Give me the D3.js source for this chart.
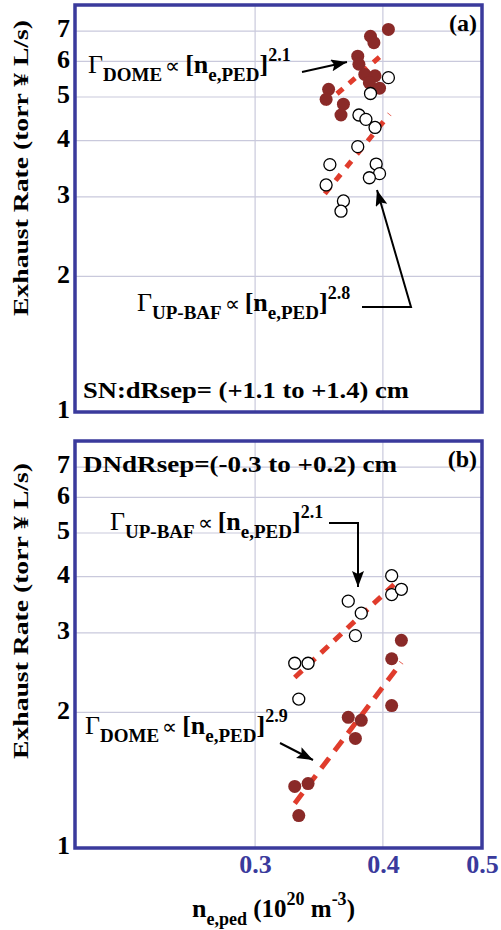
<!DOCTYPE html>
<html>
<head>
<meta charset="utf-8">
<script src="https://cdn.jsdelivr.net/npm/d3@7"></script>
<style>
  body { margin: 0; background: #fff; }
  svg { display: block; }
  text { font-family: "Liberation Serif", "Times New Roman", serif; }
</style>
</head>
<body>
<div id="chart"></div>
<script>
// tick values
const xTicks = [0.3, 0.4, 0.5];
const xGrid = [0.3, 0.4];
const yTicks = [1, 2, 3, 4, 5, 6, 7];

// panel (a) SN: dome (filled) and upper baffle (open)
const domeA_x = [0.405, 0.389, 0.392, 0.378, 0.379, 0.384, 0.393, 0.388, 0.397, 0.354, 0.352, 0.366, 0.364];
const domeA_y = [7.06, 6.82, 6.60, 6.16, 5.91, 5.61, 5.57, 5.38, 5.23, 5.20, 4.94, 4.82, 4.56];
const bafA_x = [0.405, 0.389, 0.379, 0.385, 0.393, 0.378, 0.355, 0.394, 0.397, 0.388, 0.352, 0.366, 0.364];
const bafA_y = [5.52, 5.09, 4.56, 4.46, 4.28, 3.88, 3.54, 3.55, 3.38, 3.31, 3.19, 2.94, 2.79];
const domeFitA_x = [0.351, 0.400];
const domeFitA_y = [4.82, 6.22];
const bafFitA_x = [0.351, 0.406];
const bafFitA_y = [3.05, 4.58];

// panel (b) DN
const domeB_x = [0.417, 0.408, 0.408, 0.370, 0.381, 0.376, 0.328, 0.338, 0.331];
const domeB_y = [2.89, 2.63, 2.07, 1.95, 1.92, 1.75, 1.37, 1.39, 1.18];
const bafB_x = [0.408, 0.408, 0.417, 0.370, 0.381, 0.376, 0.328, 0.338, 0.331];
const bafB_y = [4.02, 3.65, 3.75, 3.53, 3.32, 2.96, 2.57, 2.57, 2.14];
const domeFitB_x = [0.328, 0.417];
const domeFitB_y = [1.256, 2.58];
const bafFitB_x = [0.328, 0.412];
const bafFitB_y = [2.39, 3.88];

const width = 501, height = 930;
const left = 75, right = 482;
const frameColor = "#3a3a9c";
const gridColor = "#c9c9dc";
const domeColor = "#8a2a28";
const fitColor = "#e03c2c";
const serif = "Liberation Serif, Times New Roman, serif";

const svg = d3.select("#chart").append("svg")
    .attr("width", width)
    .attr("height", height);

// arrow head
svg.append("defs").append("marker")
    .attr("id", "head")
    .attr("markerUnits", "userSpaceOnUse")
    .attr("markerWidth", 18).attr("markerHeight", 14)
    .attr("refX", 16).attr("refY", 6)
    .attr("orient", "auto")
    .append("path")
    .attr("d", "M0,0 L16,6 L0,12 L3,6 Z")
    .attr("fill", "#000");

const x = d3.scaleLog().domain([0.2, 0.5]).range([left, right]);

function zip(xs, ys) {
    return xs.map((d, i) => ({ x: d, y: ys[i] }));
}

function lawLabel(g, px, py, name, power) {
    let t = g.append("text").attr("x", px).attr("y", py).attr("fill", "#000");
    t.append("tspan").attr("font-size", 26).text("Γ");
    t.append("tspan").attr("font-size", 19).attr("font-weight", "bold").attr("dy", 8).text(name);
    t.append("tspan").attr("font-size", 21).attr("dy", -8).attr("dx", 3).text("∝");
    t.append("tspan").attr("font-size", 26).attr("font-weight", "bold").attr("dx", 5).text("[n");
    t.append("tspan").attr("font-size", 19).attr("font-weight", "bold").attr("dy", 8).text("e,PED");
    t.append("tspan").attr("font-size", 26).attr("font-weight", "bold").attr("dy", -8).text("]");
    t.append("tspan").attr("font-size", 18).attr("font-weight", "bold").attr("dy", -12).text(power);
}

function arrow(g, pts) {
    g.append("path")
        .attr("d", d3.line()(pts))
        .attr("fill", "none")
        .attr("stroke", "#000")
        .attr("stroke-width", 2)
        .attr("marker-end", "url(#head)");
}

function drawPanel(p) {
    let g = svg.append("g");
    let y = d3.scaleLog().domain([1, 8]).range([p.bottom, p.top]);

    // grid lines
    g.selectAll(".hgrid").data(yTicks.filter(d => d > 1)).join("line")
        .attr("x1", left).attr("x2", right)
        .attr("y1", d => y(d)).attr("y2", d => y(d))
        .attr("stroke", gridColor).attr("stroke-width", 1.2);
    g.selectAll(".vgrid").data(xGrid).join("line")
        .attr("x1", d => x(d)).attr("x2", d => x(d))
        .attr("y1", p.top).attr("y2", p.bottom)
        .attr("stroke", gridColor).attr("stroke-width", 1.2);

    // y tick labels
    let yAxis = g.append("g")
        .attr("transform", `translate(${left},0)`)
        .call(d3.axisLeft(y).tickValues(yTicks).tickFormat(d3.format("d")).tickSize(0).tickPadding(5));
    yAxis.select(".domain").remove();
    yAxis.selectAll("text")
        .attr("font-family", serif)
        .attr("font-size", 26).attr("font-weight", "bold").attr("fill", "#000")
        .attr("dy", "0.22em");

    // fits
    let line = d3.line().x(d => x(d.x)).y(d => y(d.y));
    p.fits.forEach(f => {
        g.append("path")
            .attr("d", line(zip(f.xs, f.ys)))
            .attr("fill", "none")
            .attr("stroke", fitColor)
            .attr("stroke-width", 5)
            .attr("stroke-dasharray", f.dash);
    });

    // dome points (filled)
    g.selectAll(".dome").data(zip(p.domeX, p.domeY)).join("circle")
        .attr("cx", d => x(d.x)).attr("cy", d => y(d.y))
        .attr("r", 6.5)
        .attr("fill", domeColor);

    // upper baffle points (open)
    g.selectAll(".baf").data(zip(p.bafX, p.bafY)).join("circle")
        .attr("cx", d => x(d.x)).attr("cy", d => y(d.y))
        .attr("r", 6)
        .attr("fill", "#fff")
        .attr("stroke", "#000")
        .attr("stroke-width", 1.3);

    // frame
    g.append("rect")
        .attr("x", left).attr("y", p.top)
        .attr("width", right - left).attr("height", p.bottom - p.top)
        .attr("fill", "none")
        .attr("stroke", frameColor)
        .attr("stroke-width", 3.5);

    // y title
    g.append("text")
        .attr("transform", `translate(28,${p.titleY}) rotate(-90)`)
        .attr("text-anchor", "middle")
        .attr("font-size", 22).attr("font-weight", "bold")
        .attr("textLength", 296).attr("lengthAdjust", "spacingAndGlyphs")
        .text("Exhaust Rate (torr ¥ L/s)");

    return { g: g, y: y };
}

// panel (a)
let a = drawPanel({
    top: 5, bottom: 412, titleY: 168,
    domeX: domeA_x, domeY: domeA_y, bafX: bafA_x, bafY: bafA_y,
    fits: [
        { xs: domeFitA_x, ys: domeFitA_y, dash: "8,8" },
        { xs: bafFitA_x, ys: bafFitA_y, dash: "8,9" }
    ]
});
lawLabel(a.g, 88, 73, "DOME", "2.1");
arrow(a.g, [[302, 72], [347, 62]]);
lawLabel(a.g, 137, 311, "UP-BAF", "2.8");
arrow(a.g, [[362, 307], [411, 307], [377, 190]]);
a.g.append("text").attr("x", 83).attr("y", 398)
    .attr("font-size", 23).attr("font-weight", "bold")
    .attr("textLength", 326).attr("lengthAdjust", "spacingAndGlyphs")
    .text("SN:dRsep= (+1.1 to +1.4) cm");
a.g.append("text").attr("x", 477).attr("y", 31).attr("text-anchor", "end")
    .attr("font-size", 24).attr("font-weight", "bold").text("(a)");

// panel (b)
let b = drawPanel({
    top: 441, bottom: 848, titleY: 611,
    domeX: domeB_x, domeY: domeB_y, bafX: bafB_x, bafY: bafB_y,
    fits: [
        { xs: domeFitB_x, ys: domeFitB_y, dash: "13,9" },
        { xs: bafFitB_x, ys: bafFitB_y, dash: "10,8" }
    ]
});
b.g.append("text").attr("x", 83).attr("y", 472)
    .attr("font-size", 23).attr("font-weight", "bold")
    .attr("textLength", 314).attr("lengthAdjust", "spacingAndGlyphs")
    .text("DNdRsep=(-0.3 to +0.2) cm");
b.g.append("text").attr("x", 477).attr("y", 467).attr("text-anchor", "end")
    .attr("font-size", 24).attr("font-weight", "bold").text("(b)");
lawLabel(b.g, 110, 530, "UP-BAF", "2.1");
arrow(b.g, [[329, 523], [358, 523], [358, 587]]);
lawLabel(b.g, 85, 734, "DOME", "2.9");
arrow(b.g, [[280, 743], [313, 760]]);

// x axis labels (bottom panel only)
let xAxis = svg.append("g")
    .attr("transform", "translate(0,848)")
    .call(d3.axisBottom(x).tickValues(xTicks).tickFormat(d3.format(".1f")).tickSize(0).tickPadding(7));
xAxis.select(".domain").remove();
xAxis.selectAll("text")
    .attr("font-family", serif)
    .attr("font-size", 26).attr("font-weight", "bold").attr("fill", frameColor);

// x title
let xt = svg.append("text").attr("x", 192).attr("y", 917).attr("font-weight", "bold");
xt.append("tspan").attr("font-size", 26).text("n");
xt.append("tspan").attr("font-size", 18).attr("dy", 8).text("e,ped");
xt.append("tspan").attr("font-size", 25).attr("dy", -8).text(" (10");
xt.append("tspan").attr("font-size", 18).attr("dy", -12).text("20");
xt.append("tspan").attr("font-size", 25).attr("dy", 12).text(" m");
xt.append("tspan").attr("font-size", 18).attr("dy", -12).text("-3");
xt.append("tspan").attr("font-size", 25).attr("dy", 12).text(")");
</script>
</body>
</html>
